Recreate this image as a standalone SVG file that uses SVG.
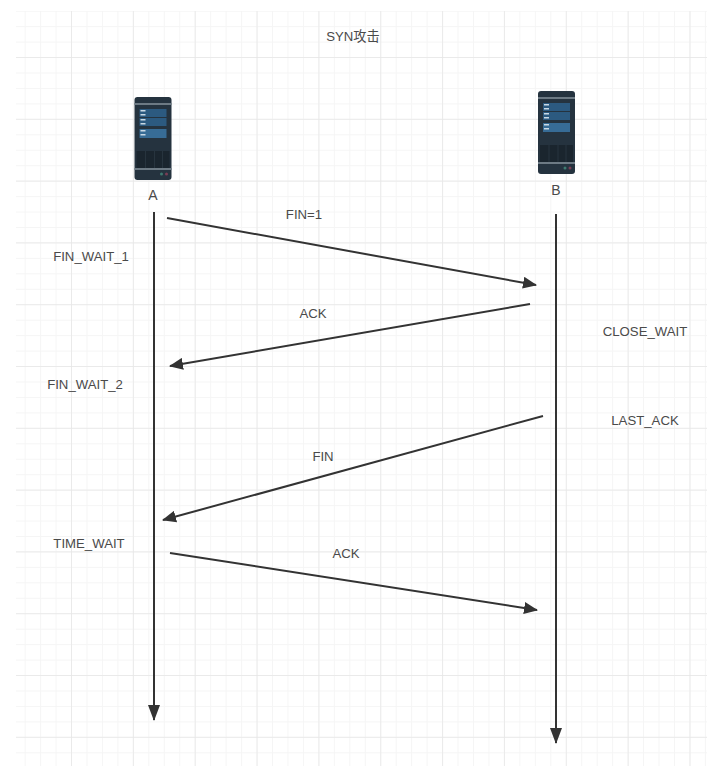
<svg xmlns="http://www.w3.org/2000/svg" width="707" height="766" viewBox="0 0 707 766">
<defs>
<pattern id="minor" x="9.2" y="10.7" width="15.46" height="15.45" patternUnits="userSpaceOnUse"><path d="M0.5 0V15.45M0 0.5H15.46" fill="none" stroke="#f5f5f5" stroke-width="1"/></pattern>
<pattern id="major" x="71" y="57" width="61.85" height="61.8" patternUnits="userSpaceOnUse"><path d="M0 0V61.8M0 0H61.85" fill="none" stroke="#e6e6e6" stroke-width="1.4"/></pattern>
<marker id="arrow" viewBox="0 0 14 12" refX="13" refY="6" markerWidth="14" markerHeight="12" markerUnits="userSpaceOnUse" orient="auto"><path d="M0 0L14 6L0 12Z" fill="#333"/></marker>
<marker id="arrowV" viewBox="0 0 16 12" refX="15" refY="6" markerWidth="16" markerHeight="12" markerUnits="userSpaceOnUse" orient="auto"><path d="M0 0L16 6L0 12Z" fill="#333"/></marker>
<g id="server">
<rect x="0" y="0" width="37" height="83" rx="3" fill="#25333f"/>
<rect x="0" y="6" width="37" height="2" fill="#6d7a84"/>
<rect x="5" y="12" width="27" height="8" fill="#2c5a80"/>
<rect x="5" y="21" width="27" height="8" fill="#2c5a80"/>
<rect x="5" y="32" width="27" height="9" fill="#376c96"/>
<rect x="6" y="13" width="5" height="1.5" fill="#c8d8e4"/><rect x="6" y="17" width="5" height="1.5" fill="#c8d8e4"/>
<rect x="6" y="22" width="5" height="1.5" fill="#c8d8e4"/><rect x="6" y="26" width="5" height="1.5" fill="#c8d8e4"/>
<rect x="6" y="33" width="5" height="1.5" fill="#c8d8e4"/><rect x="6" y="37" width="5" height="1.5" fill="#c8d8e4"/>
<rect x="2" y="54" width="33" height="17" fill="#1a252e"/>
<path d="M11 54V71M20 54V71M28 54V71" stroke="#27343e" stroke-width="1"/>
<rect x="0" y="71" width="37" height="2" fill="#6d7a84"/>
<circle cx="27" cy="77" r="1.5" fill="#3e7a70"/><circle cx="32" cy="77" r="1.5" fill="#7a3e55"/>
</g>
</defs>
<style>
text{font-family:"Liberation Sans","Noto Sans CJK SC",sans-serif;font-size:13.2px;fill:#4a4a4a}
.c{fill:none;stroke:#333;stroke-width:2}
</style>
<rect width="707" height="766" fill="#fff"/>
<rect x="16" y="11" width="691" height="755" fill="url(#minor)"/>
<rect x="16" y="11" width="691" height="755" fill="url(#major)"/>
<text x="353" y="41" text-anchor="middle">SYN攻击</text>
<g id="node-a"><use href="#server" x="134.500" y="97"/><text x="153" y="200" text-anchor="middle" style="font-size:14px">A</text></g>
<g id="node-b"><use href="#server" x="538" y="91"/><text x="556" y="195" text-anchor="middle" style="font-size:14px">B</text></g>
<g id="connectors">
<path class="c" d="M154 212V720" marker-end="url(#arrowV)"/>
<path class="c" d="M556 214V743" marker-end="url(#arrowV)"/>
<path class="c" d="M167 218L536 285" marker-end="url(#arrow)"/>
<path class="c" d="M530 304L170 366" marker-end="url(#arrow)"/>
<path class="c" d="M543 416L163 520" marker-end="url(#arrow)"/>
<path class="c" d="M170 553L537 610" marker-end="url(#arrow)"/>
</g>
<g id="labels">
<text x="304" y="219" text-anchor="middle">FIN=1</text>
<text x="91" y="261" text-anchor="middle">FIN_WAIT_1</text>
<text x="313" y="318" text-anchor="middle">ACK</text>
<text x="645" y="336" text-anchor="middle">CLOSE_WAIT</text>
<text x="85" y="389" text-anchor="middle">FIN_WAIT_2</text>
<text x="645" y="425" text-anchor="middle">LAST_ACK</text>
<text x="323" y="461" text-anchor="middle">FIN</text>
<text x="89" y="548" text-anchor="middle">TIME_WAIT</text>
<text x="346" y="558" text-anchor="middle">ACK</text>
</g>
</svg>
